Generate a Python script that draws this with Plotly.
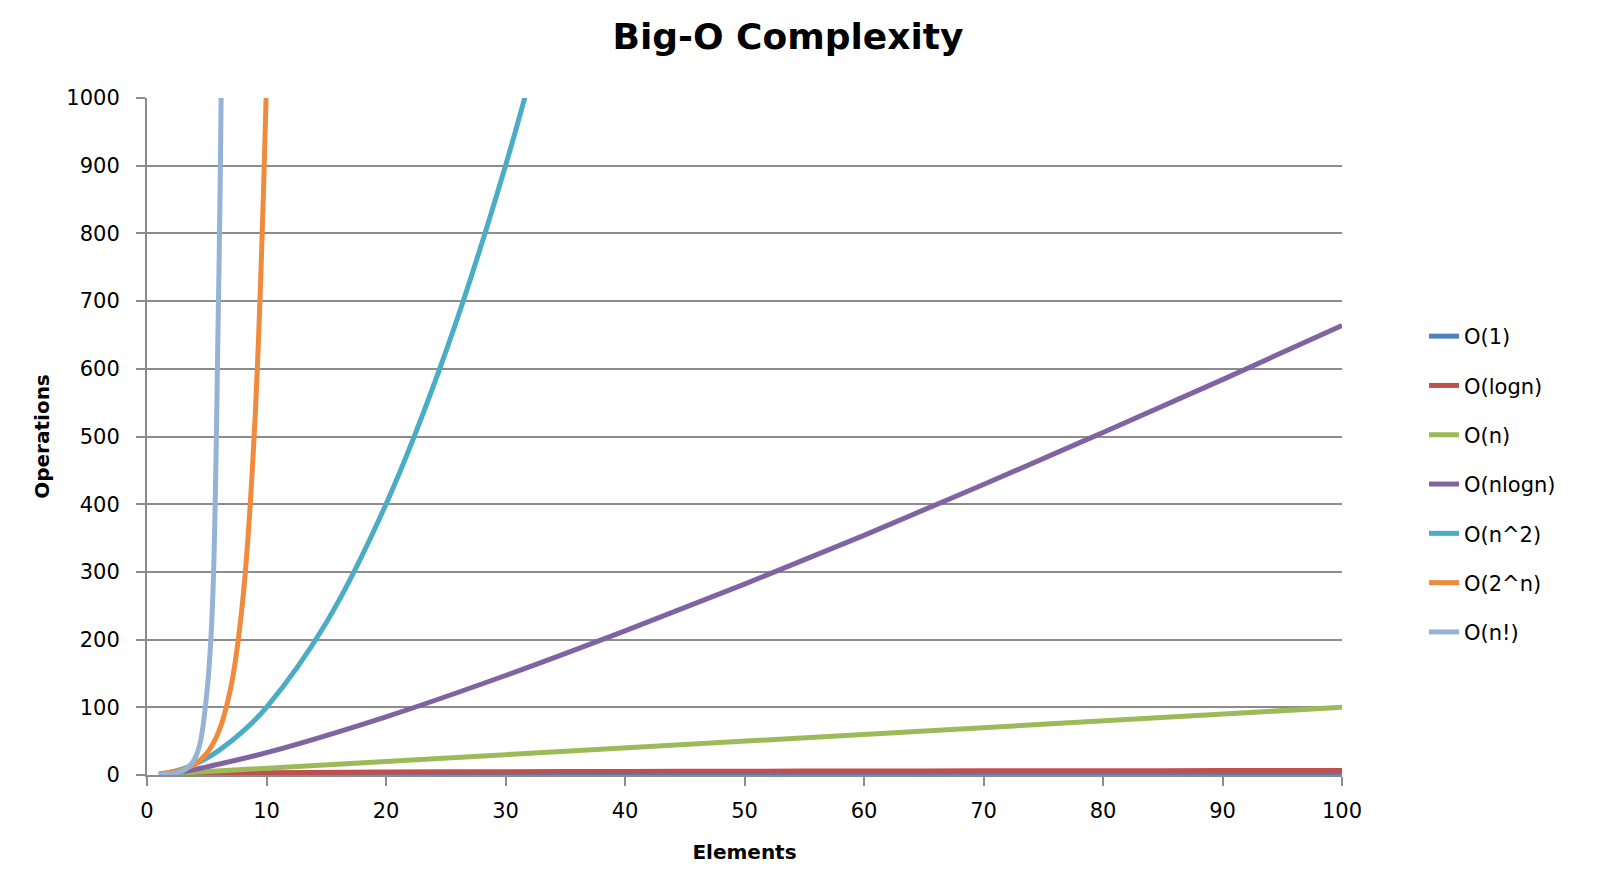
import plotly.graph_objects as go

# values
series_names = ["O(1)", "O(logn)", "O(n)", "O(nlogn)", "O(n^2)", "O(2^n)", "O(n!)"]

n_const = [1, 100]
ops_const = [1, 1]

n_log = [1, 2, 5, 10, 20, 30, 40, 50, 60, 70, 80, 90, 100]
ops_log = [0, 1, 2.3, 3.3, 4.3, 4.9, 5.3, 5.6, 5.9, 6.1, 6.3, 6.5, 6.6]

n_lin = [1, 100]
ops_lin = [1, 100]

n_nlog = [1, 2, 3, 4, 5, 10, 20, 30, 40, 50, 60, 70, 80, 90, 100]
ops_nlog = [0, 2, 5, 8, 12, 33, 86, 147, 213, 282, 354, 429, 506, 584, 664]

n_sq = [1, 2, 3, 4, 5, 6, 8, 10, 15, 20, 25, 30, 35]
ops_sq = [1, 4, 9, 16, 25, 36, 64, 100, 225, 400, 625, 900, 1225]

n_exp = [1, 2, 3, 4, 5, 6, 7, 8, 9, 10, 11]
ops_exp = [2, 4, 8, 16, 32, 64, 128, 256, 512, 1024, 2048]

n_fact = [1, 2, 3, 4, 5, 6, 7]
ops_fact = [1, 2, 6, 24, 120, 720, 5040]

x_ticks = [0, 10, 20, 30, 40, 50, 60, 70, 80, 90, 100]
y_ticks = [0, 100, 200, 300, 400, 500, 600, 700, 800, 900, 1000]

colors = ["#4F81BD", "#C0504D", "#9BBB59", "#8064A2", "#4BACC6", "#F08A3C", "#95B3D7"]

xs = [n_const, n_log, n_lin, n_nlog, n_sq, n_exp, n_fact]
ys = [ops_const, ops_log, ops_lin, ops_nlog, ops_sq, ops_exp, ops_fact]

fig = go.Figure()
for name, x, y, c in zip(series_names, xs, ys, colors):
    fig.add_trace(go.Scatter(
        x=x, y=y, name=name, mode="lines",
        line=dict(color=c, width=5, shape="spline", smoothing=1),
        legendgroup=name,
    ))

grid = "#8C8C8C"
fig.update_layout(
    width=1597, height=880,
    margin=dict(l=139, r=263, t=90, b=113),
    paper_bgcolor="white", plot_bgcolor="white",
    font=dict(family="DejaVu Sans", size=21, color="#000000"),
    title=dict(text="<b>Big-O Complexity</b>", x=780 / 1597, xref="container",
               xanchor="center", y=1 - 28 / 880, yanchor="middle",
               font=dict(size=36, family="DejaVu Sans")),
    legend=dict(x=1.0686, y=0.678, xanchor="left", yanchor="top",
                tracegroupgap=19, font=dict(size=21), bgcolor="rgba(0,0,0,0)"),
    showlegend=True,
)
fig.update_xaxes(
    range=[0, 100], tickvals=x_ticks, showgrid=False, zeroline=False,
    showline=True, linecolor=grid, linewidth=2,
    ticks="outside", ticklen=9, tickwidth=2, tickcolor=grid,
    ticklabelstandoff=7,
    title=dict(text="<b>Elements</b>", font=dict(size=20), standoff=23),
)
fig.update_yaxes(
    range=[0, 1000], tickvals=y_ticks, showgrid=True, gridcolor=grid, gridwidth=2,
    zeroline=False, showline=True, linecolor=grid, linewidth=2,
    ticks="outside", ticklen=9, tickwidth=2, tickcolor=grid,
    ticklabelstandoff=12,
    title=dict(text="<b>Operations</b>", font=dict(size=20), standoff=11),
)

fig.write_html("out.html")
